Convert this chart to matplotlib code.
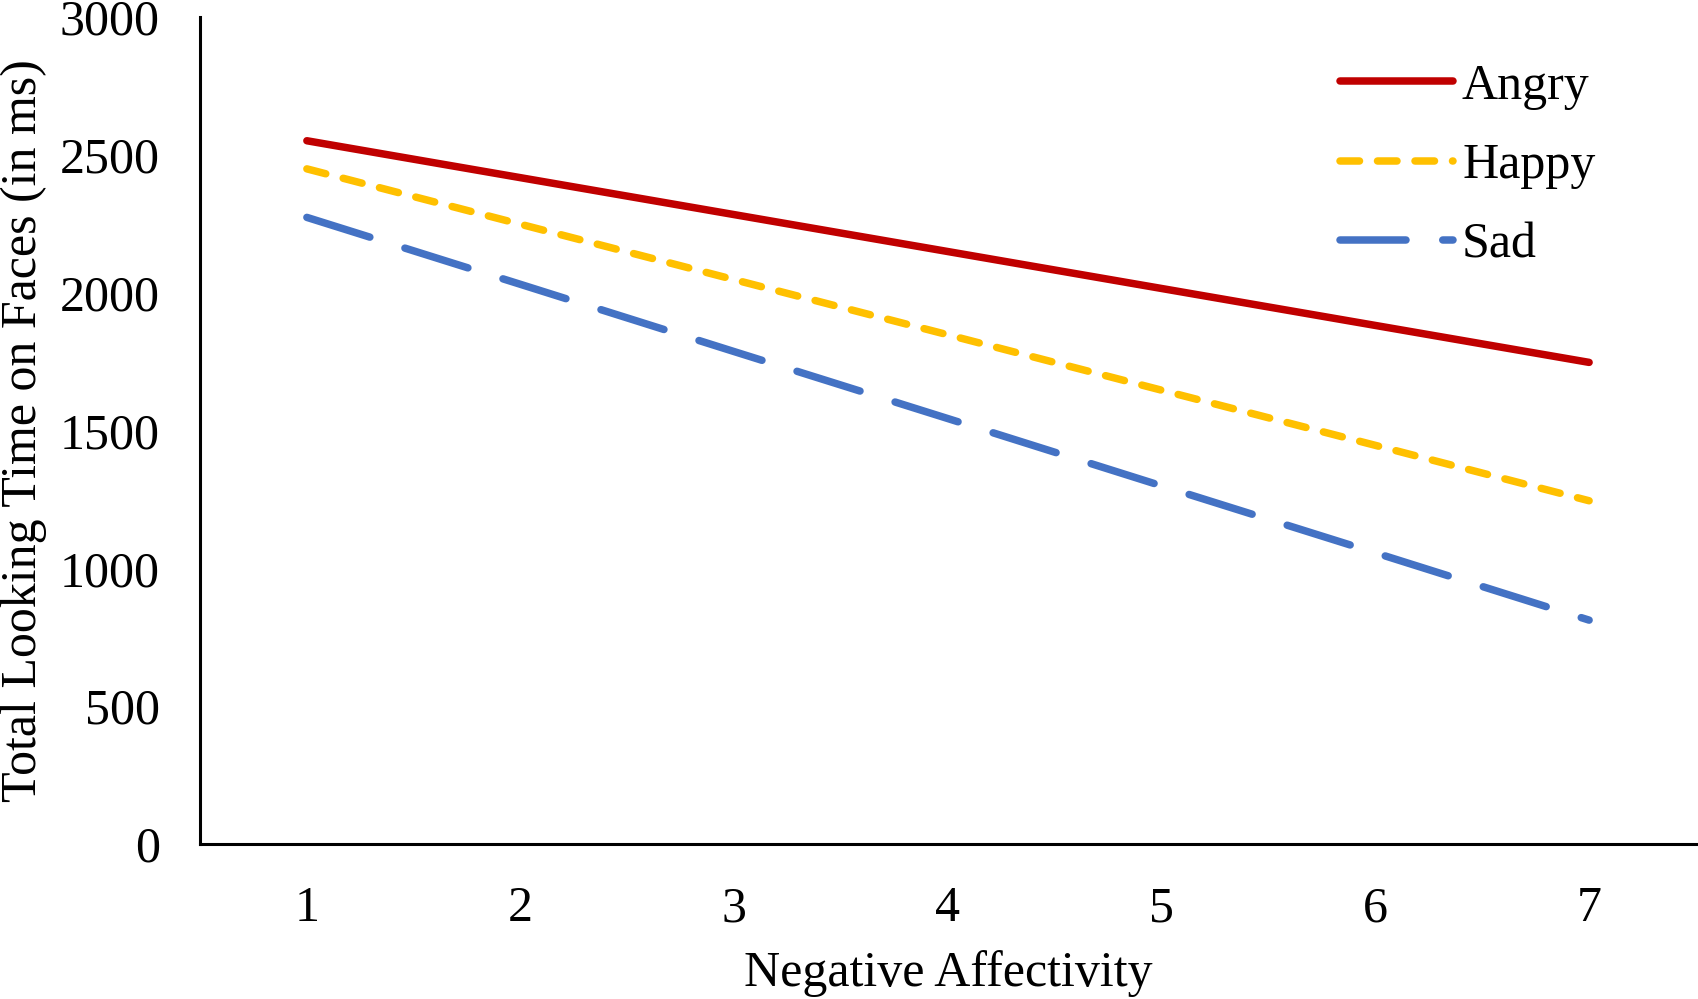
import matplotlib.pyplot as plt

# podatki odčitani iz grafa
afektivnost = [1, 2, 3, 4, 5, 6, 7]
jezen = [2551, 2417, 2283, 2149, 2015, 1881, 1747]
vesel = [2449, 2248, 2047, 1847, 1646, 1446, 1245]
zalosten = [2273, 2030, 1786, 1543, 1299, 1056, 812]
oznake = ['Angry', 'Happy', 'Sad']

plt.rcParams['font.family'] = ['Liberation Serif', 'DejaVu Serif']
velikost = 36

fig = plt.figure(figsize=(16.98, 9.99), dpi=100)
ax = fig.add_axes([0.1178, 0.1552, 0.881, 0.8278])

sirina = 5.4
ax.plot(afektivnost, jezen, color='#C00000', lw=sirina, solid_capstyle='round', label=oznake[0])
ax.plot(afektivnost, vesel, color='#FFC000', lw=sirina, dashes=(2.6, 2.4), dash_capstyle='round', label=oznake[1])
ax.plot(afektivnost, zalosten, color='#4472C4', lw=sirina, dashes=(8.8, 4.9), dash_capstyle='round', label=oznake[2])

ax.set_xlim(0.5, 7.5)
ax.set_ylim(0, 3000)
ax.set_xticks(afektivnost)
ax.set_yticks(range(0, 3001, 500))
ax.tick_params(length=0, labelsize=velikost)
ax.tick_params(axis='y', pad=29)
ax.tick_params(axis='x', pad=30)

for s in ['top', 'right']:
    ax.spines[s].set_visible(False)
for s in ['left', 'bottom']:
    ax.spines[s].set_linewidth(2.2)
    ax.spines[s].set_color('black')

ax.set_xlabel('Negative Affectivity', fontsize=velikost, labelpad=13)
ax.set_ylabel('Total Looking Time on Faces (in ms)', fontsize=velikost, labelpad=9)

#legenda desno zgoraj
leg = ax.legend(loc='upper left', bbox_to_anchor=(1340 / 1698, 1 - 63 / 999), bbox_transform=fig.transFigure,
                frameon=False, fontsize=velikost, handlelength=2.26, handletextpad=0.18, labelspacing=0.66,
                borderpad=0, borderaxespad=0)

fig.savefig('out.png', dpi=100, facecolor='white')
